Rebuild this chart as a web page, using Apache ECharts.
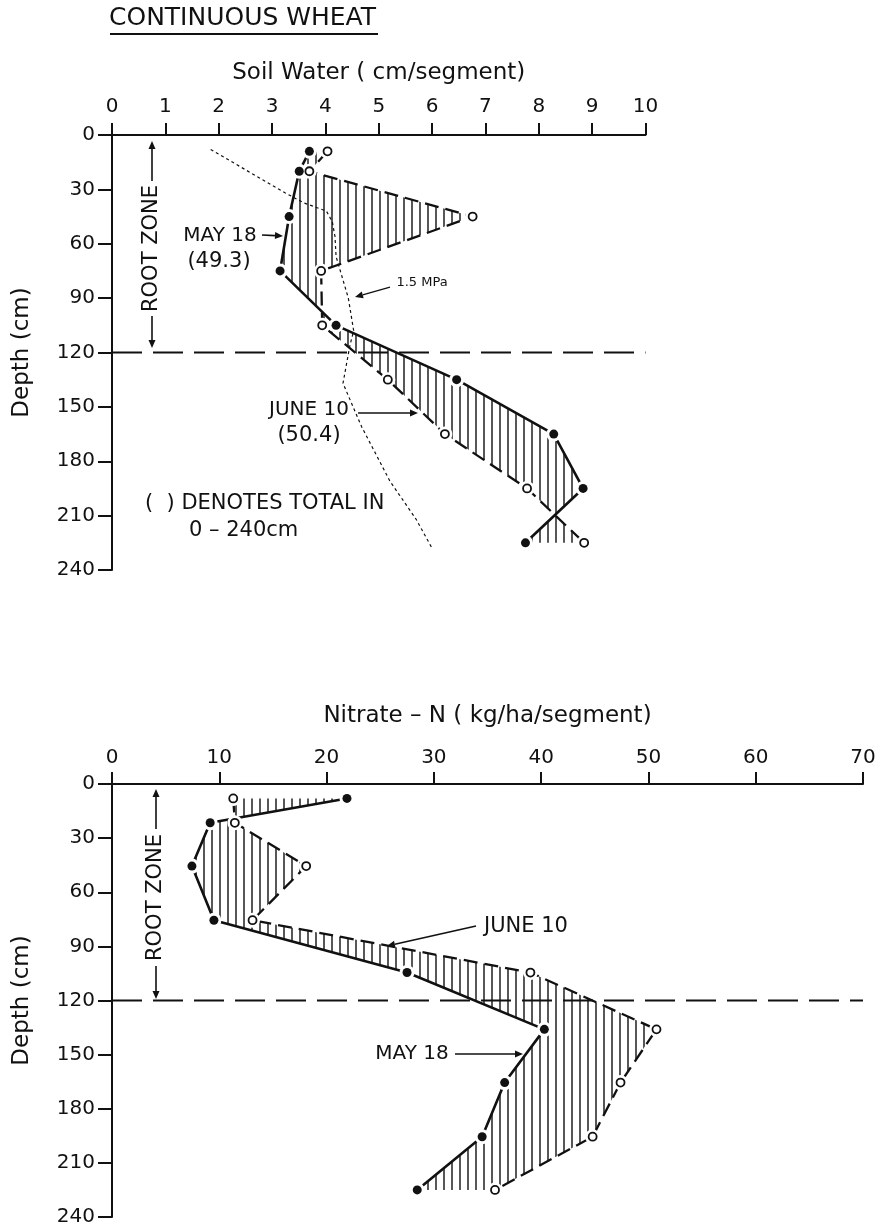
<!DOCTYPE html>
<html><head><meta charset="utf-8">
<script src="https://cdn.jsdelivr.net/npm/echarts/dist/echarts.min.js"></script>
<style>html,body{margin:0;padding:0;background:#fff}#c{width:880px;height:1230px}</style>
</head><body><div id="c"></div>
<script>
// ---------- data ----------
const depthTicks = [0, 30, 60, 90, 120, 150, 180, 210, 240];
const waterTicks = [0, 1, 2, 3, 4, 5, 6, 7, 8, 9, 10];
const nitrateTicks = [0, 10, 20, 30, 40, 50, 60, 70];
const rootZoneDepth = 120;

// Soil water (cm/segment)
const waterDepths = [9, 20, 45, 75, 105, 135, 165, 195, 225];
const waterMay18 = [3.70, 3.51, 3.32, 3.15, 4.20, 6.46, 8.28, 8.83, 7.75];
const waterJune10 = [4.04, 3.70, 6.76, 3.92, 3.94, 5.17, 6.24, 7.78, 8.85];
// 1.5 MPa line
const mpaWater = [1.85, 3.25, 3.6, 4.02, 4.13, 4.18, 4.2, 4.35, 4.43, 4.53, 4.46, 4.33, 4.68, 5.21, 5.7, 6.0];
const mpaDepths = [8, 32, 37.5, 42, 48, 56, 67, 82, 90, 108, 116, 137, 161, 191, 212, 228];

// Nitrate-N (kg/ha/segment)
const nitrateDepths = [8, 21.5, 45.5, 75.5, 104.5, 136, 165.5, 195.5, 225];
const nitrateMay18 = [21.9, 9.15, 7.45, 9.5, 27.5, 40.3, 36.6, 34.5, 28.45];
const nitrateJune10 = [11.3, 11.45, 18.1, 13.1, 39.0, 50.75, 47.4, 44.8, 35.7];

// ---------- helpers ----------
const INK = '#111';
const FONT = 'DejaVu Sans';
const zip = (xs, ys) => xs.map((x, i) => [x, ys[i]]);

const hatch = document.createElement('canvas');
hatch.width = 8; hatch.height = 8;
(function () {
  const g = hatch.getContext('2d');
  g.strokeStyle = INK; g.lineWidth = 1.4;
  g.beginPath(); g.moveTo(4, 0); g.lineTo(4, 8); g.stroke();
})();

function hatchSeries(idx, a, da, b, db) {
  return {
    type: 'custom', xAxisIndex: idx, yAxisIndex: idx, silent: true, z: 1,
    data: [[a[0], da[0]]],
    renderItem: function (params, api) {
      const pts = [];
      for (let i = 0; i < a.length; i++) pts.push(api.coord([a[i], da[i]]));
      for (let i = b.length - 1; i >= 0; i--) pts.push(api.coord([b[i], db[i]]));
      return { type: 'polygon', shape: { points: pts },
        style: { fill: { image: hatch, repeat: 'repeat' }, stroke: null } };
    }
  };
}
function maySeries(idx, xs, ys) {
  return { type: 'line', xAxisIndex: idx, yAxisIndex: idx, data: zip(xs, ys), z: 3,
    symbol: 'none', lineStyle: { color: INK, width: 2.6, type: 'solid' } };
}
function juneSeries(idx, xs, ys) {
  return { type: 'line', xAxisIndex: idx, yAxisIndex: idx, data: zip(xs, ys), z: 3,
    symbol: 'none', lineStyle: { color: INK, width: 2.3, type: [14, 7] } };
}
function haloSeries(idx, xs, ys) {
  return { type: 'scatter', xAxisIndex: idx, yAxisIndex: idx, data: zip(xs, ys), z: 4, silent: true,
    symbol: 'circle', symbolSize: 15, itemStyle: { color: '#fff', opacity: 1 } };
}
function mayMarks(idx, xs, ys) {
  return { type: 'scatter', xAxisIndex: idx, yAxisIndex: idx, data: zip(xs, ys), z: 5,
    symbol: 'circle', symbolSize: 9, itemStyle: { color: INK, opacity: 1 } };
}
function juneMarks(idx, xs, ys) {
  return { type: 'scatter', xAxisIndex: idx, yAxisIndex: idx, data: zip(xs, ys), z: 5,
    symbol: 'circle', symbolSize: 8,
    itemStyle: { color: '#fff', borderColor: INK, borderWidth: 1.8, opacity: 1 } };
}
function rootLine(idx, xmax) {
  return { type: 'line', xAxisIndex: idx, yAxisIndex: idx, symbol: 'none', z: 2,
    data: [[0, rootZoneDepth], [xmax, rootZoneDepth]],
    lineStyle: { color: INK, width: 2, type: [30, 11] } };
}
function xAxisCfg(idx, ticks, name, gap, margin) {
  return { type: 'value', gridIndex: idx, position: 'top',
    min: ticks[0], max: ticks[ticks.length - 1], interval: ticks[1] - ticks[0],
    name: name, nameLocation: 'middle', nameGap: gap,
    nameTextStyle: { fontFamily: FONT, fontSize: 23, color: INK },
    axisLine: { onZero: false, lineStyle: { color: INK, width: 2 } },
    axisTick: { length: 12, lineStyle: { color: INK, width: 2 } },
    axisLabel: { margin: margin, fontFamily: FONT, fontSize: 20, color: INK },
    splitLine: { show: false } };
}
function yAxisCfg(idx) {
  return { type: 'value', gridIndex: idx, inverse: true,
    min: depthTicks[0], max: depthTicks[depthTicks.length - 1], interval: depthTicks[1] - depthTicks[0],
    name: 'Depth (cm)', nameLocation: 'middle', nameGap: 78, nameRotate: 90,
    nameTextStyle: { fontFamily: FONT, fontSize: 23, color: INK },
    axisLine: { onZero: false, lineStyle: { color: INK, width: 2 } },
    axisTick: { length: 14, lineStyle: { color: INK, width: 2 } },
    axisLabel: { margin: 17, fontFamily: FONT, fontSize: 20, color: INK },
    splitLine: { show: false } };
}
function txt(x, y, s, size, opts, align) {
  return Object.assign({ type: 'text', x: x, y: y, z: 10,
    style: { text: s, fontFamily: FONT, fontSize: size, fill: INK, align: align || 'center', verticalAlign: 'middle' } }, opts || {});
}
function arrow(x1, y1, x2, y2, w) {
  const ang = Math.atan2(y2 - y1, x2 - x1), L = 8, W = 3.5;
  const bx = x2 - L * Math.cos(ang), by = y2 - L * Math.sin(ang);
  const px = -Math.sin(ang) * W, py = Math.cos(ang) * W;
  return [
    { type: 'line', z: 10, shape: { x1: x1, y1: y1, x2: bx, y2: by }, style: { stroke: INK, lineWidth: w || 1.6 } },
    { type: 'polygon', z: 10, shape: { points: [[x2, y2], [bx + px, by + py], [bx - px, by - py]] }, style: { fill: INK } }
  ];
}

const graphics = [].concat(
  [txt(109, 18, 'CONTINUOUS WHEAT', 25, null, 'left'),
   { type: 'line', z: 10, shape: { x1: 110, y1: 34, x2: 378, y2: 34 }, style: { stroke: INK, lineWidth: 2 } },
   txt(152, 248.5, 'ROOT ZONE', 21, { rotation: Math.PI / 2 }),
   txt(220, 236, 'MAY 18', 20), txt(219, 262, '(49.3)', 21),
   txt(422, 283, '1.5 MPa', 13),
   txt(309, 410, 'JUNE 10', 20), txt(309, 436, '(50.4)', 21),
   txt(145, 504, '(  ) DENOTES TOTAL IN', 21, null, 'left'),
   txt(189, 531, '0 – 240cm', 21, null, 'left'),
   txt(156, 897.5, 'ROOT ZONE', 21, { rotation: Math.PI / 2 }),
   txt(526, 927, 'JUNE 10', 21),
   txt(412, 1054, 'MAY 18', 20)],
  arrow(152, 181, 152, 141), arrow(152, 316, 152, 348),
  arrow(262, 235, 283, 236),
  arrow(390, 287, 355, 297, 1.3),
  arrow(358, 413, 418, 413),
  arrow(156, 829, 156, 789), arrow(156, 966, 156, 999),
  arrow(476, 926, 387, 946),
  arrow(455, 1054, 523, 1054)
);

const chart = echarts.init(document.getElementById('c'), null, { renderer: 'canvas' });
chart.setOption({
  backgroundColor: '#fff',
  animation: false,
  grid: [
    { left: 112, top: 135, width: 533.5, height: 435, outerBoundsMode: 'none' },
    { left: 112, top: 784, width: 751, height: 433, outerBoundsMode: 'none' }
  ],
  xAxis: [xAxisCfg(0, waterTicks, 'Soil Water ( cm/segment)', 50, 18),
          xAxisCfg(1, nitrateTicks, 'Nitrate – N ( kg/ha/segment)', 56, 16)],
  yAxis: [yAxisCfg(0), yAxisCfg(1)],
  series: [
    hatchSeries(0, waterMay18, waterDepths, waterJune10, waterDepths),
    rootLine(0, waterTicks[waterTicks.length - 1]),
    { type: 'line', xAxisIndex: 0, yAxisIndex: 0, symbol: 'none', z: 2, data: zip(mpaWater, mpaDepths),
      lineStyle: { color: INK, width: 1.2, type: [3, 3] } },
    maySeries(0, waterMay18, waterDepths),
    juneSeries(0, waterJune10, waterDepths),
    haloSeries(0, waterMay18, waterDepths),
    haloSeries(0, waterJune10, waterDepths),
    mayMarks(0, waterMay18, waterDepths),
    juneMarks(0, waterJune10, waterDepths),
    hatchSeries(1, nitrateMay18, nitrateDepths, nitrateJune10, nitrateDepths),
    rootLine(1, nitrateTicks[nitrateTicks.length - 1]),
    maySeries(1, nitrateMay18, nitrateDepths),
    juneSeries(1, nitrateJune10, nitrateDepths),
    haloSeries(1, nitrateMay18, nitrateDepths),
    haloSeries(1, nitrateJune10, nitrateDepths),
    mayMarks(1, nitrateMay18, nitrateDepths),
    juneMarks(1, nitrateJune10, nitrateDepths)
  ],
  graphic: graphics
});
</script></body></html>
